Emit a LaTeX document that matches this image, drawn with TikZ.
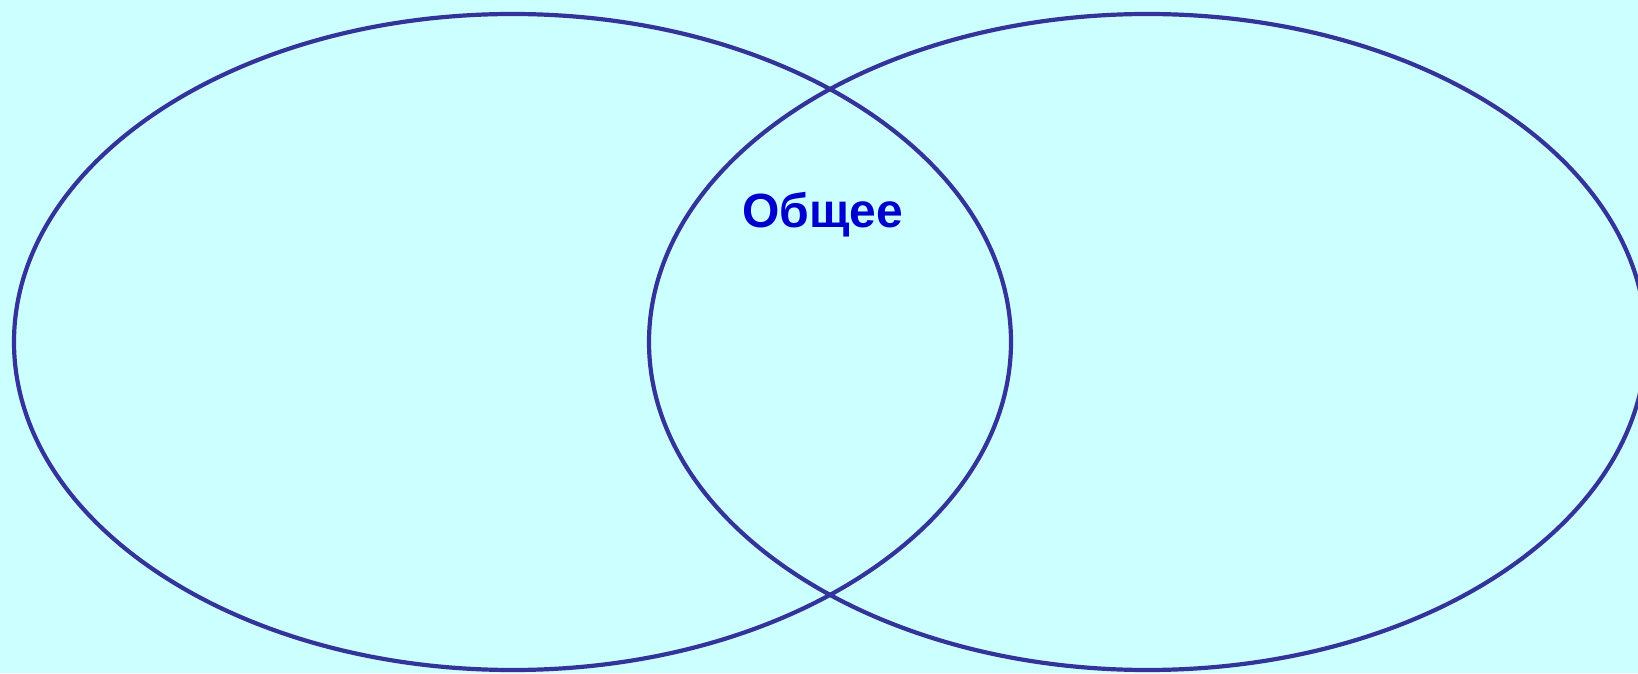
\documentclass[tikz,border=0pt]{standalone}
\usepackage{fontspec}
\setmainfont{Liberation Sans}
\definecolor{bgcyan}{HTML}{CCFFFF}
\definecolor{rimblue}{HTML}{333399}
\definecolor{textblue}{HTML}{0000CC}

\begin{document}
\begin{tikzpicture}[x=1pt,y=1pt,line cap=round,line join=round,every node/.style={inner sep=0pt}]
  \def\W{1638}
  \def\H{673}
  \def\cy{331}
  \def\rx{498.5}
  \def\ry{328}
  \fill[bgcyan] (0,0) rectangle (\W,\H);
  \useasboundingbox (0,0) rectangle (\W,\H);
  \begin{scope}
    \clip (0,0) rectangle (\W,\H);
    \draw[rimblue,line width=4.2pt] (512.5,\cy) ellipse[x radius=\rx,y radius=\ry];
    \draw[rimblue,line width=4.2pt] (1147.5,\cy) ellipse[x radius=\rx,y radius=\ry];
  \end{scope}
  \node[anchor=base,text=textblue,font=\fontsize{48}{56}\selectfont\bfseries] (common) at (822.5,445) {Общее};
\end{tikzpicture}
\end{document}
